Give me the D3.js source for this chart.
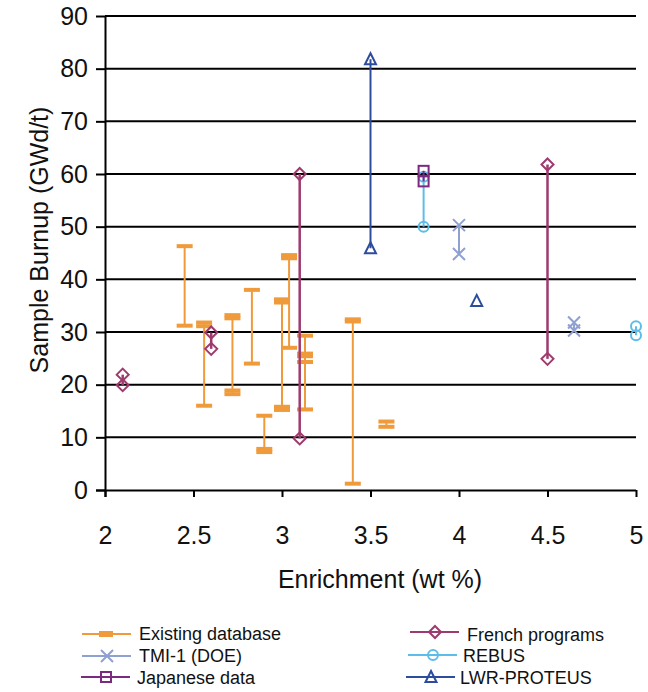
<!DOCTYPE html>
<html>
<head>
<meta charset="utf-8">
<script src="https://cdn.jsdelivr.net/npm/d3@7"></script>
<style>
html,body{margin:0;padding:0;background:#fff;}
svg{display:block;font-family:"Liberation Sans",Arial,sans-serif;}
</style>
</head>
<body>
<svg id="chart" width="648" height="692"></svg>
<script>
// ---------- DATA ----------
const xTicks = [2, 2.5, 3, 3.5, 4, 4.5, 5];
const yTicks = [0, 10, 20, 30, 40, 50, 60, 70, 80, 90];

// Existing database: one vertical range per enrichment
const existingX = [2.45, 2.56, 2.72, 2.83, 2.90, 3.00, 3.04, 3.13, 3.40, 3.59];
const existingValues = [
  [31.2, 46.3],
  [16.0, 31.1, 31.8],
  [18.2, 18.9, 32.6, 33.2],
  [24.0, 38.0],
  [7.2, 7.8, 14.1],
  [15.2, 15.8, 35.6, 36.2],
  [27.0, 44.0, 44.6],
  [15.3, 24.3, 25.4, 25.9, 29.3],
  [1.2, 32.0, 32.4],
  [12.0, 13.0]
];

const frenchX = [2.1, 2.6, 3.1, 4.5];
const frenchValues = [[19.9, 21.9], [26.8, 29.9], [9.8, 60.0], [24.9, 61.8]];

const tmiX = [4.0, 4.65];
const tmiValues = [[44.8, 50.3], [30.3, 31.8]];

const rebusX = [3.8, 5.0];
const rebusValues = [[50.0, 59.5], [29.4, 31.1]];

const japaneseX = [3.8];
const japaneseValues = [[58.6, 60.6]];

const lwrX = [3.5, 4.1];
const lwrValues = [[45.9, 81.8], [35.9]];

const seriesNames = ["Existing database", "French programs", "TMI-1 (DOE)", "REBUS", "Japanese data", "LWR-PROTEUS"];
const seriesColors = ["#EF9B3C", "#9E3A6E", "#8FA0D2", "#5DBDEA", "#7B2A80", "#2E4C9C"];
const seriesSymbols = ["dash", "diamond", "cross", "circle", "square", "triangle"];

// ---------- LAYOUT ----------
const svg = d3.select("#chart");
const x = d3.scaleLinear().domain([2, 5]).range([105, 636]);
const y = d3.scaleLinear().domain([0, 90]).range([490, 16]);

// gridlines
svg.append("g").selectAll("line").data(yTicks.filter(d => d > 0)).join("line")
  .attr("x1", 105).attr("x2", 636)
  .attr("y1", d => y(d)).attr("y2", d => y(d))
  .attr("stroke", "#000").attr("stroke-width", 2);

// y axis
const yAxis = svg.append("g").attr("transform", "translate(105,0)")
  .call(d3.axisLeft(y).tickValues(yTicks).tickSize(9).tickSizeOuter(0).tickPadding(8));
yAxis.select(".domain").attr("stroke-width", 2).attr("d", "M0.5,16V497");
yAxis.selectAll(".tick line").attr("stroke-width", 2);
yAxis.selectAll("text").attr("font-size", 25).attr("fill", "#111").attr("font-family", "Liberation Sans, Arial, sans-serif");

// x axis
const xAxis = svg.append("g").attr("transform", "translate(0,490)")
  .call(d3.axisBottom(x).tickValues(xTicks).tickFormat(d3.format("")).tickSize(7).tickSizeOuter(0).tickPadding(29));
xAxis.select(".domain").attr("stroke-width", 2).attr("d", "M96,0.5H636");
xAxis.selectAll(".tick line").attr("stroke-width", 2);
xAxis.selectAll("text").attr("font-size", 25).attr("fill", "#111").attr("font-family", "Liberation Sans, Arial, sans-serif");

// titles
svg.append("text").attr("x", 380).attr("y", 588).attr("text-anchor", "middle")
  .attr("font-size", 25).attr("fill", "#111").text("Enrichment (wt %)");
svg.append("text").attr("transform", "translate(48,240) rotate(-90)").attr("text-anchor", "middle")
  .attr("font-size", 25).attr("fill", "#111").text("Sample Burnup (GWd/t)");

// ---------- MARKERS ----------
function drawMarker(g, type, cx, cy, color) {
  if (type === "dash") {
    g.append("rect").attr("x", cx - 8).attr("y", cy - 2).attr("width", 16).attr("height", 4).attr("fill", color);
  } else if (type === "diamond") {
    g.append("path").attr("d", `M${cx},${cy - 6}L${cx + 6},${cy}L${cx},${cy + 6}L${cx - 6},${cy}Z`)
      .attr("fill", "none").attr("stroke", color).attr("stroke-width", 2);
  } else if (type === "cross") {
    g.append("path").attr("d", `M${cx - 6},${cy - 6}L${cx + 6},${cy + 6}M${cx - 6},${cy + 6}L${cx + 6},${cy - 6}`)
      .attr("fill", "none").attr("stroke", color).attr("stroke-width", 2);
  } else if (type === "circle") {
    g.append("circle").attr("cx", cx).attr("cy", cy).attr("r", 5)
      .attr("fill", "none").attr("stroke", color).attr("stroke-width", 2);
  } else if (type === "square") {
    g.append("rect").attr("x", cx - 5).attr("y", cy - 5).attr("width", 10).attr("height", 10)
      .attr("fill", "none").attr("stroke", color).attr("stroke-width", 2);
  } else if (type === "triangle") {
    g.append("path").attr("d", `M${cx},${cy - 6}L${cx + 5.5},${cy + 5}L${cx - 5.5},${cy + 5}Z`)
      .attr("fill", "none").attr("stroke", color).attr("stroke-width", 2);
  }
}

const allSeries = [
  [existingX, existingValues],
  [frenchX, frenchValues],
  [tmiX, tmiValues],
  [rebusX, rebusValues],
  [japaneseX, japaneseValues],
  [lwrX, lwrValues]
];

allSeries.forEach(([xs, vals], si) => {
  const g = svg.append("g");
  const color = seriesColors[si];
  xs.forEach((xv, i) => {
    const v = vals[i];
    if (v.length > 1) {
      g.append("line")
        .attr("x1", x(xv)).attr("x2", x(xv))
        .attr("y1", y(d3.min(v))).attr("y2", y(d3.max(v)))
        .attr("stroke", color).attr("stroke-width", si === 1 ? 2.5 : 2);
    }
    v.forEach(val => drawMarker(g, seriesSymbols[si], x(xv), y(val), color));
  });
});

// ---------- LEGEND ----------
const legendPos = [
  {lx: 82, ly: 634, tx: 139, ty: 634},
  {lx: 410, ly: 632, tx: 467, ty: 635},
  {lx: 82, ly: 656, tx: 139, ty: 656},
  {lx: 408, ly: 655, tx: 463, ty: 656},
  {lx: 81, ly: 677, tx: 137, ty: 678},
  {lx: 406, ly: 677, tx: 460, ty: 678}
];
seriesNames.forEach((name, i) => {
  const p = legendPos[i];
  const g = svg.append("g");
  g.append("line").attr("x1", p.lx).attr("x2", p.lx + 49).attr("y1", p.ly).attr("y2", p.ly)
    .attr("stroke", seriesColors[i]).attr("stroke-width", 2);
  if (seriesSymbols[i] === "dash") {
    g.append("rect").attr("x", p.lx + 17).attr("y", p.ly - 3).attr("width", 14).attr("height", 6).attr("fill", seriesColors[i]);
  } else {
    drawMarker(g, seriesSymbols[i], p.lx + 25, p.ly, seriesColors[i]);
  }
  g.append("text").attr("x", p.tx).attr("y", p.ty).attr("dy", "0.35em")
    .attr("font-size", 18).attr("fill", "#111").text(name);
});
</script>
</body>
</html>
